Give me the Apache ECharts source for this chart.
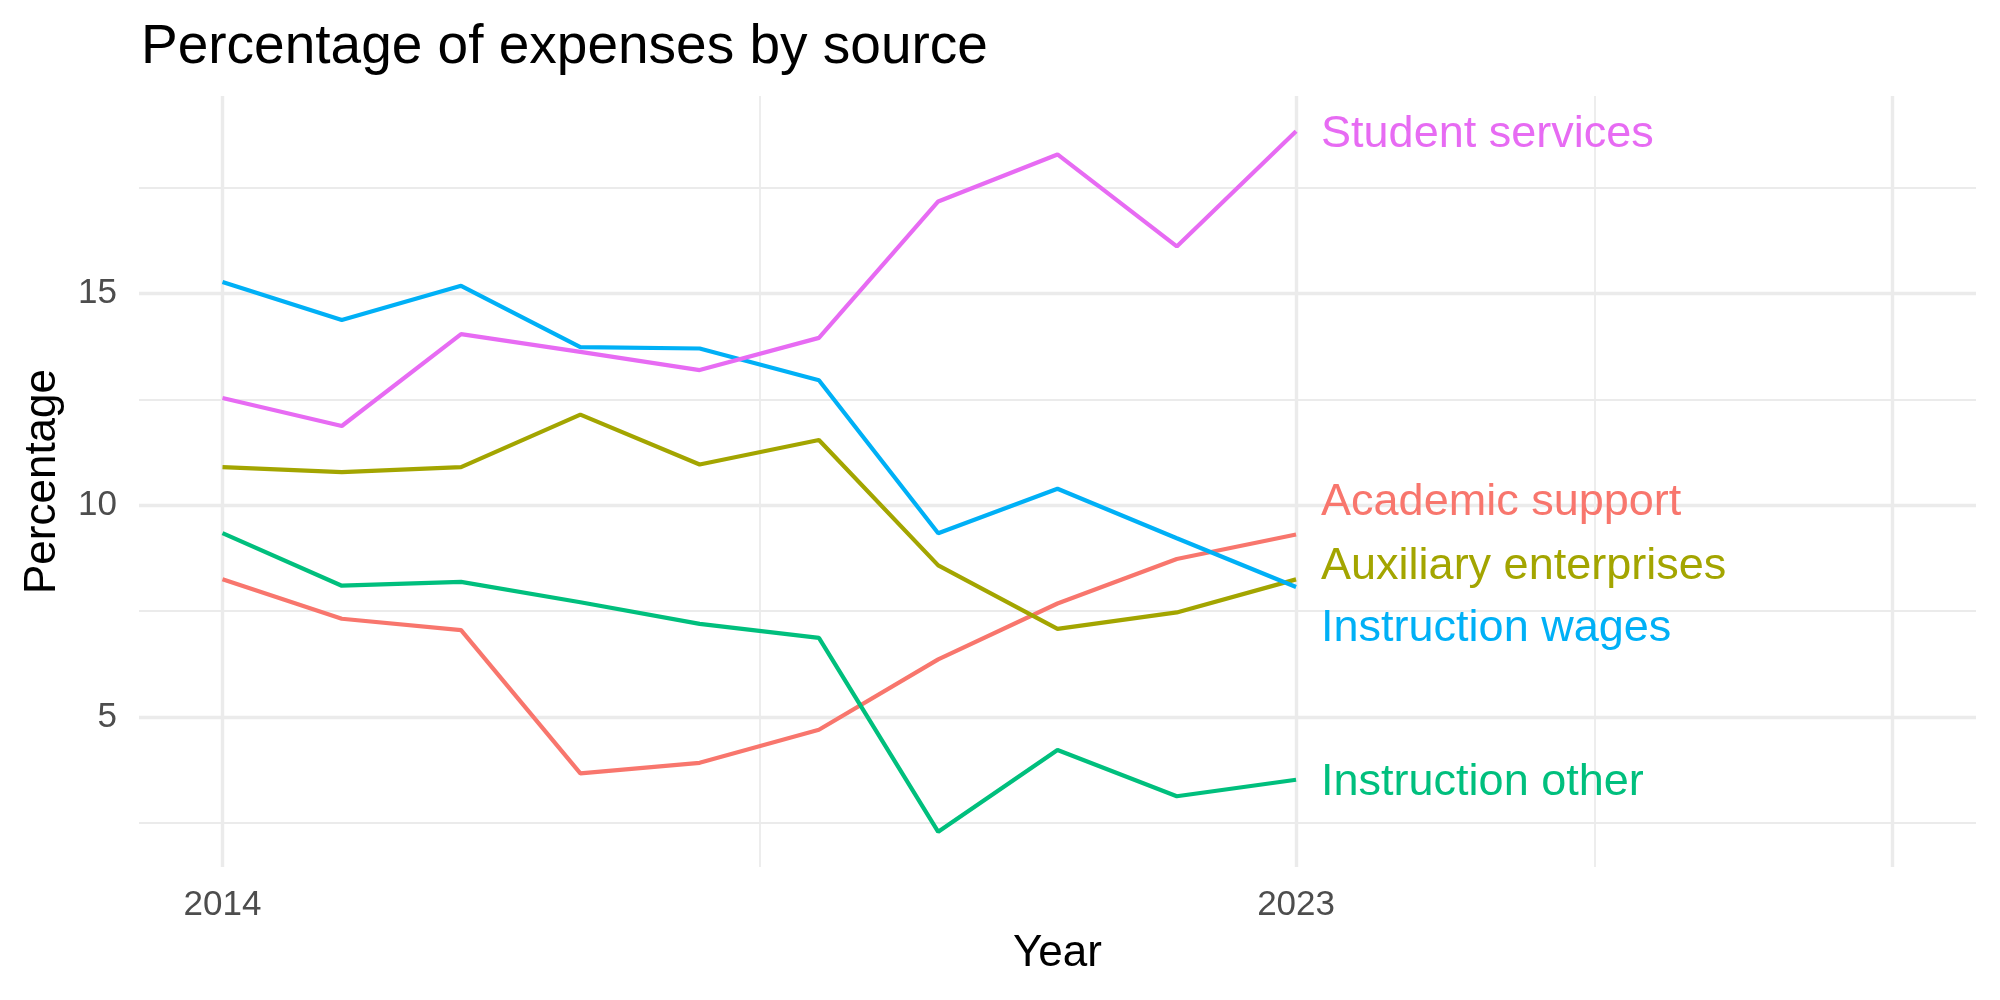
<!DOCTYPE html>
<html>
<head>
<meta charset="utf-8">
<script src="https://cdn.jsdelivr.net/npm/echarts@6/dist/echarts.min.js"></script>
<style>
  html, body { margin: 0; padding: 0; background: #fff; }
  #chart { width: 2000px; height: 1000px; }
</style>
</head>
<body>
<div id="chart"></div>
<script>
  // data
  const years = [2014, 2015, 2016, 2017, 2018, 2019, 2020, 2021, 2022, 2023]
  const academicSupport = [8.25, 7.32, 7.05, 3.67, 3.92, 4.70, 6.36, 7.68, 8.73, 9.31]
  const auxiliaryEnterprises = [10.90, 10.78, 10.90, 12.14, 10.96, 11.54, 8.58, 7.08, 7.47, 8.25]
  const instructionOther = [9.34, 8.10, 8.19, 7.71, 7.20, 6.87, 2.29, 4.22, 3.13, 3.52]
  const instructionWages = [15.27, 14.37, 15.18, 13.73, 13.70, 12.95, 9.34, 10.39, 9.22, 8.07]
  const studentServices = [12.53, 11.87, 14.04, 13.62, 13.19, 13.95, 17.17, 18.28, 16.11, 18.83]

  const xLabels = [2014, 2023]
  const xMajor = [2014, 2023, 2028]
  const xMinor = [2018.5, 2025.5]
  const yLabels = [5, 10, 15]
  const yMajor = [5, 10, 15]
  const yMinor = [2.5, 7.5, 12.5, 17.5]

  const FONT = '"Liberation Sans", Arial, Helvetica, sans-serif'
  const GRID_COLOR = '#EBEBEB'

  const toPairs = (vals) => years.map((y, i) => [y, vals[i]])

  // label nudges (px) so end labels don't overlap, like ggrepel did
  const seriesDefs = [
    { name: 'Academic support', data: academicSupport, color: '#F8766D', dy: -32 },
    { name: 'Auxiliary enterprises', data: auxiliaryEnterprises, color: '#A3A500', dy: -13 },
    { name: 'Instruction other', data: instructionOther, color: '#00BF7D', dy: 3 },
    { name: 'Instruction wages', data: instructionWages, color: '#00B0F6', dy: 42 },
    { name: 'Student services', data: studentServices, color: '#E76BF3', dy: 3 },
  ]

  const gridLines = []
  xMajor.forEach(v => gridLines.push({ xAxis: v, lineStyle: { width: 3.4 } }))
  xMinor.forEach(v => gridLines.push({ xAxis: v, lineStyle: { width: 1.8 } }))
  yMajor.forEach(v => gridLines.push({ yAxis: v, lineStyle: { width: 3.4 } }))
  yMinor.forEach(v => gridLines.push({ yAxis: v, lineStyle: { width: 1.8 } }))

  const chart = echarts.init(document.getElementById('chart'))

  const option = {
    animation: false,
    backgroundColor: '#fff',
    title: {
      text: 'Percentage of expenses by source',
      left: 136,
      top: 15,
      textStyle: { fontFamily: FONT, fontSize: 55, fontWeight: 'normal', color: '#000' },
    },
    grid: { left: 139, right: 24, top: 96, bottom: 133 },
    xAxis: {
      type: 'value',
      min: 2013.3,
      max: 2028.7,
      name: 'Year',
      nameLocation: 'middle',
      nameGap: 65,
      nameTextStyle: { fontFamily: FONT, fontSize: 44, color: '#000' },
      axisLine: { show: false },
      axisTick: { show: false },
      splitLine: { show: false },
      axisLabel: {
        customValues: xLabels,
        formatter: v => String(v),
        fontFamily: FONT,
        fontSize: 35,
        color: '#4D4D4D',
        margin: 21,
      },
    },
    yAxis: {
      type: 'value',
      min: 1.46,
      max: 19.66,
      name: 'Percentage',
      nameLocation: 'middle',
      nameGap: 74,
      nameTextStyle: { fontFamily: FONT, fontSize: 44, color: '#000' },
      axisLine: { show: false },
      axisTick: { show: false },
      splitLine: { show: false },
      axisLabel: {
        customValues: yLabels,
        fontFamily: FONT,
        fontSize: 35,
        color: '#4D4D4D',
        margin: 22,
      },
    },
    series: [
      {
        name: 'grid',
        type: 'line',
        data: [],
        silent: true,
        z: 0,
        markLine: {
          silent: true,
          z: 0,
          symbol: 'none',
          label: { show: false },
          lineStyle: { color: GRID_COLOR, type: 'solid' },
          data: gridLines,
        },
      },
      ...seriesDefs.map(s => ({
        name: s.name,
        type: 'line',
        data: toPairs(s.data),
        showSymbol: false,
        z: 3,
        lineStyle: { color: s.color, width: 4.2 },
        itemStyle: { color: s.color },
        endLabel: {
          show: true,
          formatter: '{a}',
          distance: 0,
          offset: [25, s.dy],
          color: s.color,
          fontFamily: FONT,
          fontSize: 45,
        },
      })),
    ],
  }

  chart.setOption(option)
</script>
</body>
</html>
